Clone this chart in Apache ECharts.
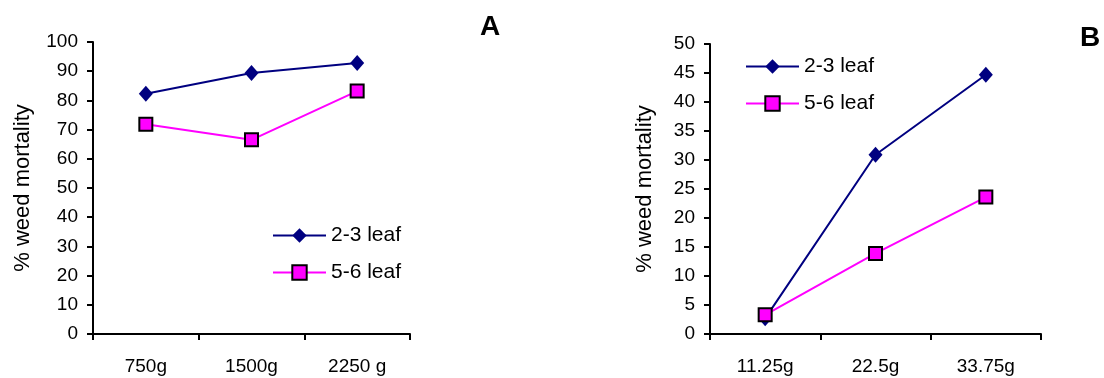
<!DOCTYPE html>
<html>
<head>
<meta charset="utf-8">
<script src="https://cdn.jsdelivr.net/npm/echarts@6/dist/echarts.min.js"></script>
<style>
html,body{margin:0;padding:0;background:#fff;}
#c{width:1104px;height:378px;}
</style>
</head>
<body>
<div id="c"></div>
<script>
const catsA = ['750g', '1500g', '2250 g'];
const catsB = ['11.25g', '22.5g', '33.75g'];
const leaf23A = [82.3, 89.4, 92.8];
const leaf56A = [71.8, 66.5, 83.2];
const leaf23B = [2.7, 30.9, 44.7];
const leaf56B = [3.3, 13.9, 23.6];
const seriesNames = ['2-3 leaf', '5-6 leaf'];
const yNameText = '% weed mortality';

const FONT = 'Liberation Sans, Arial, sans-serif';
const FS = 19;
const chart = echarts.init(document.getElementById('c'), null, {renderer: 'canvas'});

function xAxis(idx, cats) {
  return {
    type: 'category', gridIndex: idx, data: cats, boundaryGap: true,
    axisLine: {lineStyle: {color: '#000', width: 2}},
    axisTick: {show: true, length: 6, lineStyle: {color: '#000', width: 2}},
    axisLabel: {color: '#000', fontSize: FS, fontFamily: FONT, margin: 23}
  };
}
function yAxis(idx, max, interval, gap) {
  return {
    type: 'value', gridIndex: idx, min: 0, max: max, interval: interval,
    name: yNameText, nameLocation: 'middle', nameGap: gap, nameRotate: 90,
    nameTextStyle: {color: '#000', fontSize: 22, fontFamily: FONT},
    axisLine: {show: true, lineStyle: {color: '#000', width: 2}},
    axisTick: {show: true, length: 6, lineStyle: {color: '#000', width: 2}},
    axisLabel: {color: '#000', fontSize: FS, fontFamily: FONT, margin: 15},
    splitLine: {show: false}
  };
}
function s23(idx, data) {
  return {
    name: seriesNames[0], type: 'line', xAxisIndex: idx, yAxisIndex: idx, data: data,
    symbol: 'diamond', symbolSize: [14, 16],
    lineStyle: {color: '#000080', width: 2},
    itemStyle: {color: '#000080'}, z: 2, animation: false
  };
}
function s56(idx, data) {
  return {
    name: seriesNames[1], type: 'line', xAxisIndex: idx, yAxisIndex: idx, data: data,
    symbol: 'rect', symbolSize: 13,
    lineStyle: {color: '#FF00FF', width: 2},
    itemStyle: {color: '#FF00FF', borderColor: '#000', borderWidth: 2}, z: 3, animation: false
  };
}
function legend(left, top) {
  return {
    left: left, top: top, orient: 'vertical', data: seriesNames,
    itemWidth: 53, itemHeight: 18, itemGap: 16, padding: 0,
    textStyle: {color: '#000', fontSize: 21, fontFamily: FONT}
  };
}

chart.setOption({
  animation: false,
  backgroundColor: '#fff',
  title: [
    {text: 'A', left: 480, top: 13, padding: 0, textStyle: {fontSize: 28, fontWeight: 'bold', fontFamily: FONT, color: '#000'}},
    {text: 'B', left: 1080, top: 24, padding: 0, textStyle: {fontSize: 28, fontWeight: 'bold', fontFamily: FONT, color: '#000'}}
  ],
  legend: [legend(272, 225), legend(745, 56)],
  grid: [
    {left: 93, top: 42, width: 317, height: 292},
    {left: 710, top: 44, width: 331, height: 290}
  ],
  xAxis: [xAxis(0, catsA), xAxis(1, catsB)],
  yAxis: [yAxis(0, 100, 10, 59), yAxis(1, 50, 5, 54)],
  series: [s23(0, leaf23A), s56(0, leaf56A), s23(1, leaf23B), s56(1, leaf56B)]
});
</script>
</body>
</html>
